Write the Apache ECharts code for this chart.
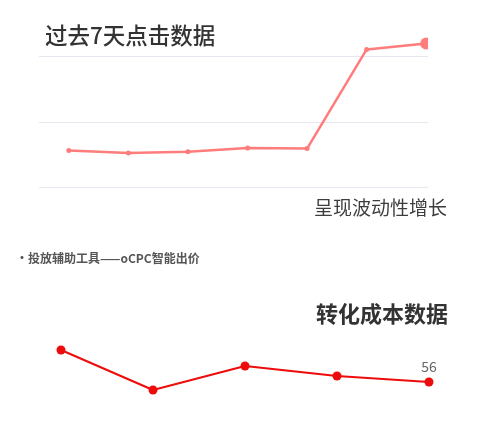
<!DOCTYPE html>
<html>
<head>
<meta charset="utf-8">
<script src="https://cdn.jsdelivr.net/npm/echarts@6/dist/echarts.min.js"></script>
<style>
  html, body { margin: 0; padding: 0; background: #fff; }
  #main { width: 500px; height: 436px; }
</style>
</head>
<body>
<div id="main"></div>
<script>
// 过去7天点击数据
const clickDays = ['第1天', '第2天', '第3天', '第4天', '第5天', '第6天', '第7天']
const clickValues = [56, 52, 54, 60, 59, 211, 220]
const clickTicks = [0, 100, 200]

// 转化成本数据
const costDays = ['第1期', '第2期', '第3期', '第4期', '第5期']
const costValues = [72, 52, 64, 59, 56]

const FONT = '"Noto Sans CJK SC", "Noto Sans", sans-serif'

let chart = echarts.init(document.getElementById('main'))
chart.setOption({
  animation: false,
  grid: [
    { left: 39, right: 44, top: 24, bottom: 249 },
    { left: 61, right: 71, top: 314, bottom: 22 }
  ],
  xAxis: [
    {
      gridIndex: 0,
      type: 'category',
      data: clickDays,
      boundaryGap: true,
      axisLine: { show: false },
      axisTick: { show: false },
      axisLabel: { show: false }
    },
    {
      gridIndex: 1,
      type: 'category',
      data: costDays,
      boundaryGap: false,
      axisLine: { show: false },
      axisTick: { show: false },
      axisLabel: { show: false }
    }
  ],
  yAxis: [
    {
      gridIndex: 0,
      type: 'value',
      min: clickTicks[0],
      max: 250,
      interval: clickTicks[1] - clickTicks[0],
      axisLabel: { show: false },
      splitLine: { show: true, showMaxLine: false, lineStyle: { color: '#e6e7f0', width: 1 } }
    },
    {
      gridIndex: 1,
      type: 'value',
      min: 40,
      max: 90,
      axisLabel: { show: false },
      splitLine: { show: false }
    }
  ],
  series: [
    {
      name: '点击',
      type: 'line',
      xAxisIndex: 0,
      yAxisIndex: 0,
      symbol: 'circle',
      symbolSize: 5,
      //最后一天的点放大
      data: clickValues.map((v, i) => i === clickValues.length - 1 ? { value: v, symbolSize: 12 } : v),
      itemStyle: { color: '#ff7c7c' },
      lineStyle: { color: '#ff7c7c', width: 2.5 }
    },
    {
      name: '转化成本',
      type: 'line',
      xAxisIndex: 1,
      yAxisIndex: 1,
      symbol: 'circle',
      symbolSize: 9,
      //只有最后一个点显示数值
      data: costValues.map((v, i) => i === costValues.length - 1
        ? { value: v, label: { show: true, position: 'top', distance: 4, color: '#666', fontSize: 14, fontFamily: FONT } }
        : v),
      itemStyle: { color: '#ee0b0b' },
      lineStyle: { color: '#ee0b0b', width: 2 }
    }
  ],
  graphic: [
    //右侧截断
    { type: 'rect', z: 100, shape: { x: 428, y: 0, width: 72, height: 190 }, style: { fill: '#fff' } },
    { type: 'text', z: 101, x: 45, y: 35, style: { text: '过去7天点击数据', fill: '#333', fontSize: 22.5, fontWeight: 500, fontFamily: FONT, verticalAlign: 'middle' } },
    { type: 'text', z: 101, x: 314, y: 208, style: { text: '呈现波动性增长', fill: '#3d3d3d', fontSize: 19, fontFamily: FONT, verticalAlign: 'middle' } },
    { type: 'text', z: 101, x: 16, y: 258, style: { text: '•投放辅助工具——oCPC智能出价', fill: '#555', fontSize: 12, fontWeight: 'bold', fontFamily: FONT, verticalAlign: 'middle' } },
    { type: 'text', z: 101, x: 316, y: 314, style: { text: '转化成本数据', fill: '#333', fontSize: 22, fontWeight: 'bold', fontFamily: FONT, verticalAlign: 'middle' } }
  ]
})
</script>
</body>
</html>
